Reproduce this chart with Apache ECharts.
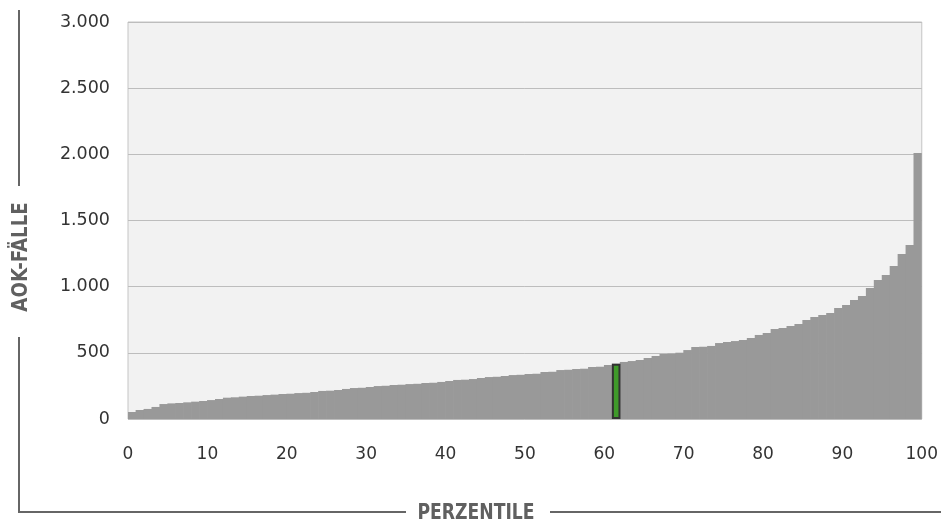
<!DOCTYPE html>
<html>
<head>
<meta charset="utf-8">
<script src="https://cdn.jsdelivr.net/npm/echarts@6/dist/echarts.min.js"></script>
<style>
html,body{margin:0;padding:0;background:#fff;}
#chart{width:941px;height:524px;}
</style>
</head>
<body>
<div id="chart"></div>
<script>
// Percentile categories (0..99) and AOK case counts
const percentiles = ["0","1","2","3","4","5","6","7","8","9","10","11","12","13","14","15","16","17","18","19","20","21","22","23","24","25","26","27","28","29","30","31","32","33","34","35","36","37","38","39","40","41","42","43","44","45","46","47","48","49","50","51","52","53","54","55","56","57","58","59","60","61","62","63","64","65","66","67","68","69","70","71","72","73","74","75","76","77","78","79","80","81","82","83","84","85","86","87","88","89","90","91","92","93","94","95","96","97","98","99"];
const values = [53,68,76,91,113,118,121,126,131,136,
  143,151,161,164,169,174,176,181,184,189,
  191,196,198,204,212,214,219,227,234,236,
  242,249,251,257,259,264,266,272,274,280,
  287,295,297,302,310,317,319,325,332,334,
  340,342,355,357,370,372,378,380,393,395,
  408,418,431,438,446,461,476,491,494,501,
  521,544,546,552,574,582,589,597,612,635,
  650,680,688,703,718,748,771,786,801,839,
  861,899,929,990,1050,1088,1156,1247,1315,2010];
const highlightIndex = 61;
const xTitle = "PERZENTILE";
const yTitle = "AOK-FÄLLE";

const chart = echarts.init(document.getElementById('chart'), null, {renderer:'canvas'});
const highlightData = values.map((v,i)=> i===highlightIndex ? v : '-');
const fmt = v => String(v).replace(/\B(?=(\d{3})+(?!\d))/g,'.');
const titleFont = "'DejaVu Sans Condensed','DejaVu Sans',sans-serif";
chart.setOption({
  animation:false,
  backgroundColor:'#fff',
  grid:{left:128,right:19,top:22,bottom:105,show:true,backgroundColor:'#f2f2f2',borderColor:'#c4c4c4',borderWidth:1},
  xAxis:[
    {type:'category',data:percentiles,boundaryGap:true,show:false},
    {type:'value',min:0,max:100,interval:10,position:'bottom',
     axisLine:{show:false},axisTick:{show:false},splitLine:{show:false},
     axisLabel:{margin:27,fontSize:17,color:'#333',fontFamily:'DejaVu Sans'}}
  ],
  yAxis:{type:'value',min:0,max:3000,interval:500,
    axisLine:{show:false},axisTick:{show:false},
    splitLine:{lineStyle:{color:'#bdbdbd',width:1}},
    axisLabel:{margin:18,fontSize:17.5,color:'#333',fontFamily:'DejaVu Sans',formatter:fmt}},
  series:[
    {type:'bar',xAxisIndex:0,data:values,barWidth:8.6,barGap:'-100%',z:2,
      itemStyle:{color:'#999999'}},
    {type:'bar',xAxisIndex:0,data:highlightData,barWidth:8.6,barGap:'-100%',z:3,
      itemStyle:{color:'#3f9a2a',borderColor:'#333',borderWidth:2}}
  ],
  graphic:[
    {type:'polyline',shape:{points:[[19,10],[19,186]]},style:{stroke:'#666',lineWidth:2,fill:null}},
    {type:'polyline',shape:{points:[[19,337],[19,512],[406,512]]},style:{stroke:'#666',lineWidth:2,fill:null}},
    {type:'line',shape:{x1:550,y1:512,x2:941,y2:512},style:{stroke:'#666',lineWidth:2}},
    {type:'text',x:476,y:513,scaleX:0.87,style:{text:xTitle,fontSize:22,fontWeight:'bold',fontFamily:titleFont,fill:'#606060',align:'center',verticalAlign:'middle'}},
    {type:'text',x:21,y:257,rotation:Math.PI/2,scaleX:0.92,style:{text:yTitle,fontSize:22,fontWeight:'bold',fontFamily:titleFont,fill:'#606060',align:'center',verticalAlign:'middle'}}
  ]
});
</script>
</body>
</html>
